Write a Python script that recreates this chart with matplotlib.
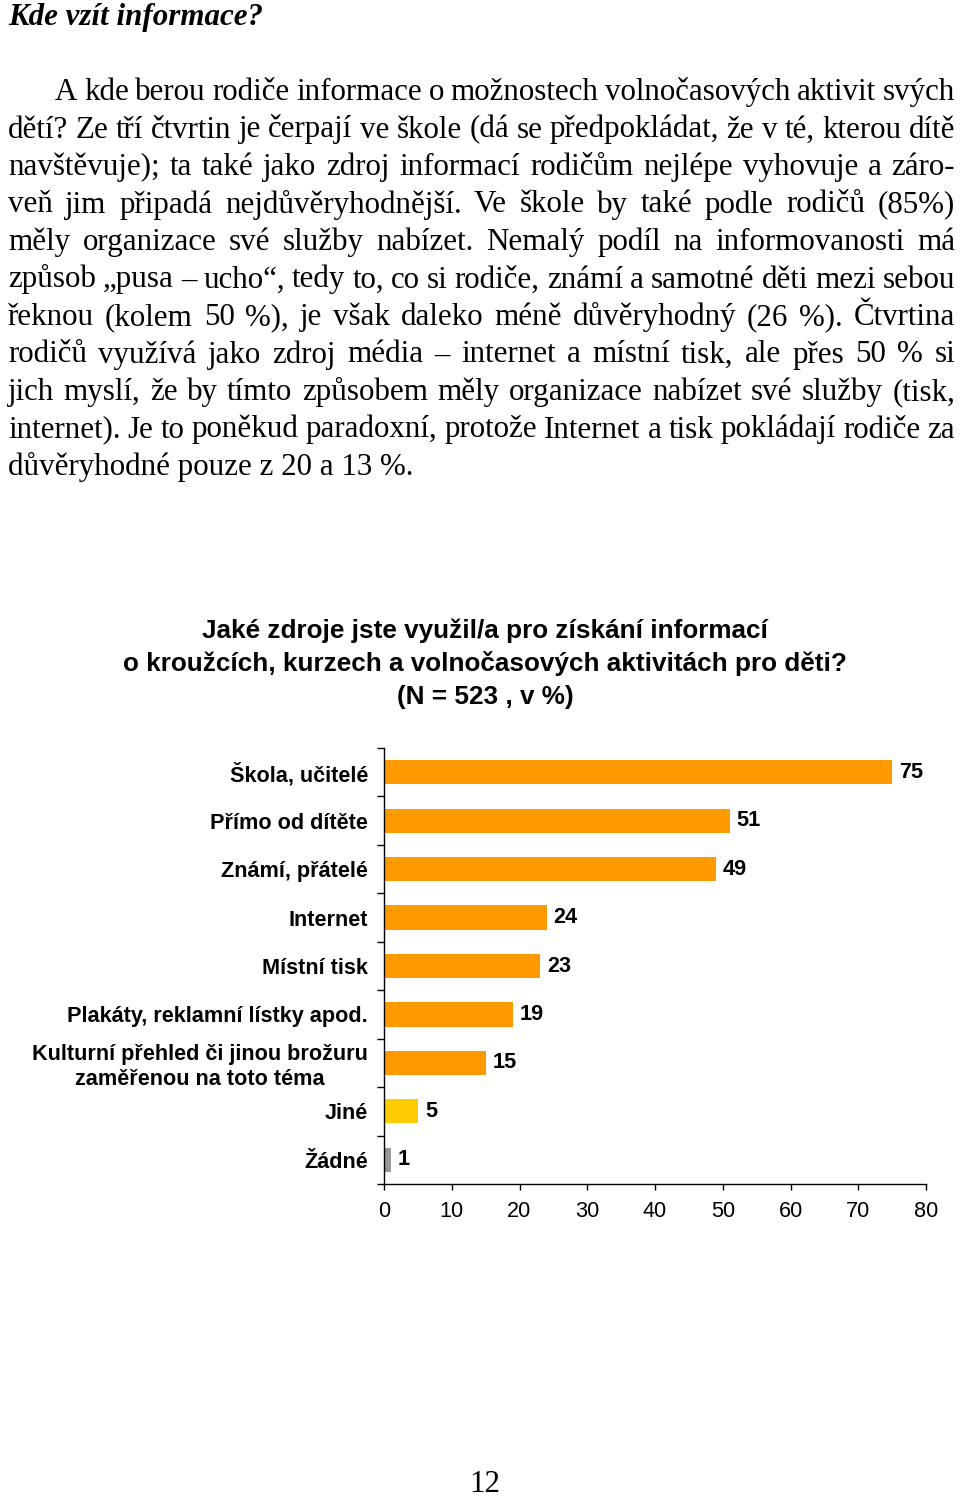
import numpy as np
import matplotlib
matplotlib.use('Agg')
import matplotlib.pyplot as plt

# text stranky
nadpis = 'Kde vzít informace?'
radky = [
    'A kde berou rodiče informace o možnostech volnočasových aktivit svých',
    'dětí? Ze tří čtvrtin je čerpají ve škole (dá se předpokládat, že v té, kterou dítě',
    'navštěvuje); ta také jako zdroj informací rodičům nejlépe vyhovuje a záro-',
    'veň jim připadá nejdůvěryhodnější. Ve škole by také podle rodičů (85%)',
    'měly organizace své služby nabízet. Nemalý podíl na informovanosti má',
    'způsob „pusa – ucho“, tedy to, co si rodiče, známí a samotné děti mezi sebou',
    'řeknou (kolem 50 %), je však daleko méně důvěryhodný (26 %). Čtvrtina',
    'rodičů využívá jako zdroj média – internet a místní tisk, ale přes 50 % si',
    'jich myslí, že by tímto způsobem měly organizace nabízet své služby (tisk,',
    'internet). Je to poněkud paradoxní, protože Internet a tisk pokládají rodiče za',
    'důvěryhodné pouze z 20 a 13 %.',
]
cislo_strany = '12'

# graf
titulek = ['Jaké zdroje jste využil/a pro získání informací',
           'o kroužcích, kurzech a volnočasových aktivitách pro děti?',
           '(N = 523 , v %)']
zdroje = ['Škola, učitelé', 'Přímo od dítěte', 'Známí, přátelé', 'Internet',
          'Místní tisk', 'Plakáty, reklamní lístky apod.',
          'Kulturní přehled či jinou brožuru\nzaměřenou na toto téma',
          'Jiné', 'Žádné']
hodnoty = [75, 51, 49, 24, 23, 19, 15, 5, 1]
barvy = ['#FF9900'] * 7 + ['#FFCC00', '#999999']
osa_x = [0, 10, 20, 30, 40, 50, 60, 70, 80]

W, H = 960, 1499
fig = plt.figure(figsize=(W / 100, H / 100), dpi=100)
r = fig.canvas.get_renderer()

def fx(px):
    return px / W

def fy(py):
    return 1 - py / H

def sirka(t, **kw):
    tt = fig.text(0, 0, t, **kw)
    w = tt.get_window_extent(r).width
    tt.remove()
    return w

serif = 'Liberation Serif'
sans = 'Liberation Sans'

# velikost pisma podle sirky posledniho radku (8..413 px)
vel = 20 * 405 / sirka(radky[-1], family=serif, fontsize=20)

vel_n = 20 * 255 / sirka(nadpis, family=serif, fontsize=20, fontweight='bold', style='italic')
fig.text(fx(8), fy(25), nadpis, family=serif, fontsize=vel_n, fontweight='bold',
         style='italic', va='baseline')

# zarovnani do bloku
for i, radek in enumerate(radky):
    y = fy(100 + 37.5 * i)
    x0 = 55 if i == 0 else 8
    x1 = 955
    slova = radek.split(' ')
    if i == len(radky) - 1:
        fig.text(fx(x0), y, radek, family=serif, fontsize=vel, va='baseline')
        continue
    sirky = [sirka(s, family=serif, fontsize=vel) for s in slova]
    mezera = (x1 - x0 - sum(sirky)) / (len(slova) - 1)
    x = x0
    for s, w in zip(slova, sirky):
        fig.text(fx(x), y, s, family=serif, fontsize=vel, va='baseline')
        x += w + mezera

fig.text(fx(485), fy(1498.5), cislo_strany, family=serif, fontsize=vel,
         ha='center', va='bottom')

# titulek grafu
vel_t = 20 * 722 / sirka(titulek[1], family=sans, fontsize=20, fontweight='bold')
for i, t in enumerate(titulek):
    fig.text(fx(485), fy(638 + 33 * i), t, family=sans, fontsize=vel_t,
             fontweight='bold', ha='center', va='baseline')

vel_k = 20 * 336 / sirka('Kulturní přehled či jinou brožuru', family=sans,
                         fontsize=20, fontweight='bold')

ax = fig.add_axes([fx(384), fy(1184), fx(926 - 384), (1184 - 748) / H])
y = np.arange(len(zdroje))
ax.barh(y, hodnoty, height=0.5, color=barvy)
for yi, v in zip(y, hodnoty):
    ax.annotate(str(v), (v, yi), xytext=(5, 0), textcoords='offset points',
                va='center', ha='left', family=sans, fontweight='bold',
                fontsize=vel_k)

ax.set_xlim(0, 80)
ax.set_ylim(len(zdroje) - 0.5, -0.5)
ax.set_xticks(osa_x)
ax.set_yticks(y)
ax.set_yticklabels(zdroje, family=sans, fontweight='bold', fontsize=vel_k,
                   multialignment='center')
ax.set_yticks(np.arange(-0.5, len(zdroje), 1), minor=True)
ax.tick_params(axis='y', which='major', length=0, pad=11.5)
ax.tick_params(axis='y', which='minor', length=5, width=1)
ax.tick_params(axis='x', length=4, width=1, pad=8, labelsize=vel_k)
for lbl in ax.get_xticklabels():
    lbl.set_family(sans)
for s in ['top', 'right']:
    ax.spines[s].set_visible(False)
for s in ['left', 'bottom']:
    ax.spines[s].set_linewidth(1)

fig.savefig('out.png', dpi=100)
